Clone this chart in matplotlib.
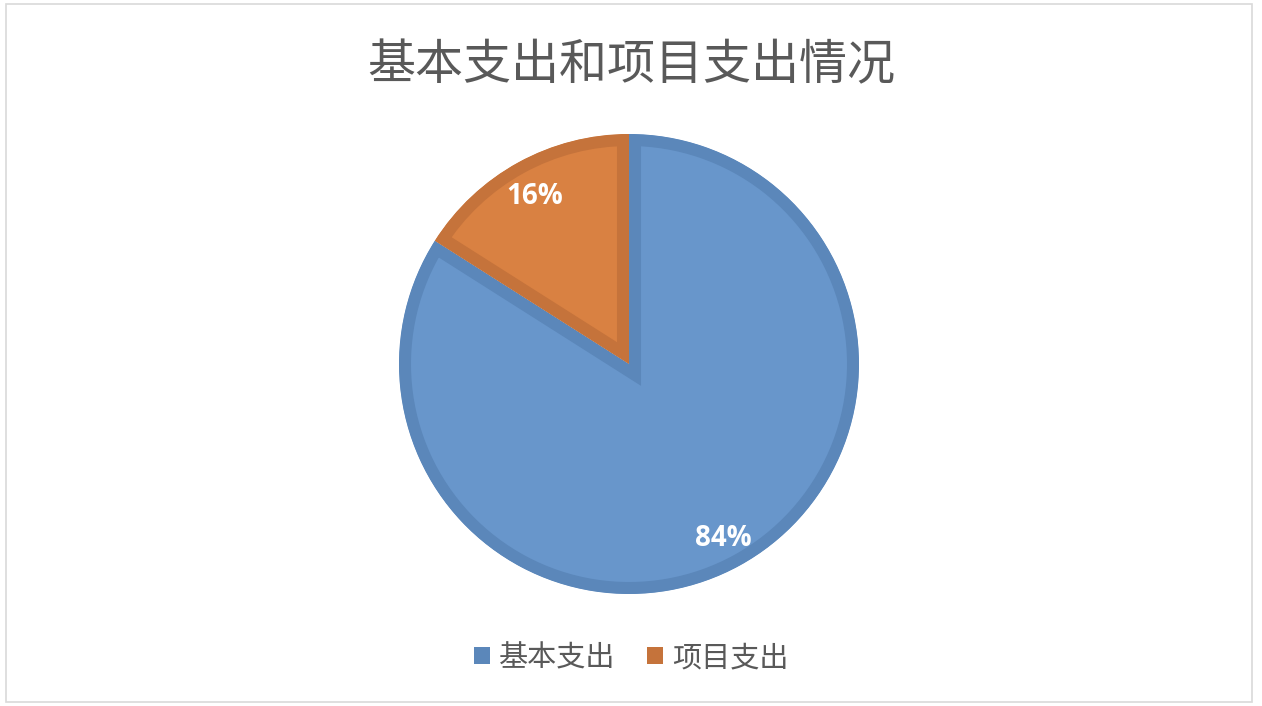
import matplotlib.pyplot as plt
from matplotlib.patches import Rectangle, Patch

plt.rcParams['font.family'] = ['Noto Sans CJK SC', 'DejaVu Sans']

title = '基本支出和项目支出情况'
labels = ['基本支出', '项目支出']
shares = [84, 16]
fill_colours = ['#6896CB', '#D98142']
edge_colours = ['#5B87BA', '#C5733B']

W, H = 1262, 706
fig = plt.figure(figsize=(W / 100, H / 100), dpi=100)

# light grey frame round the chart area
fig.patches.append(Rectangle((5.5 / W, 4 / H), 1246.5 / W, 698 / H,
                             transform=fig.transFigure, fill=False,
                             edgecolor='#D9D9D9', linewidth=1.2))

fig.text(0.5, 1 - 66 / H, title, ha='center', va='center',
         fontsize=34.6, color='#595959')

# pie centred at (629, 364) px with radius 230 px
cx, cy, r = 629, 364, 230
ax = fig.add_axes([(cx - r) / W, (H - cy - r) / H, 2 * r / W, 2 * r / H])
wedges, _, autotexts = ax.pie(shares, colors=fill_colours, startangle=90,
                              counterclock=False, autopct='%d%%',
                              pctdistance=0.85,
                              wedgeprops=dict(linewidth=17.3))
for w, ec in zip(wedges, edge_colours):
    w.set_edgecolor(ec)
    w.set_clip_on(True)
    w.set_clip_path(w)  # keep the stroke inside each slice

for t in autotexts:
    t.set_color('white')
    t.set_fontsize(20)
    t.set_fontweight('bold')
    t.set_fontfamily(['Open Sans', 'DejaVu Sans'])
    x, y = t.get_position()
    t.set_position((x, y - 0.015))

ax.set_xlim(-1, 1)
ax.set_ylim(-1, 1)
ax.set_aspect('equal')
ax.axis('off')

handles = [Patch(facecolor=c, edgecolor='none') for c in edge_colours]
fig.legend(handles, labels, loc='center', bbox_to_anchor=(0.5, 1 - 658 / H),
           ncol=2, frameon=False, fontsize=21, labelcolor='#595959',
           handlelength=0.55, handleheight=0.55, handletextpad=0.3,
           columnspacing=1.1)

fig.savefig('out.png', dpi=100)
